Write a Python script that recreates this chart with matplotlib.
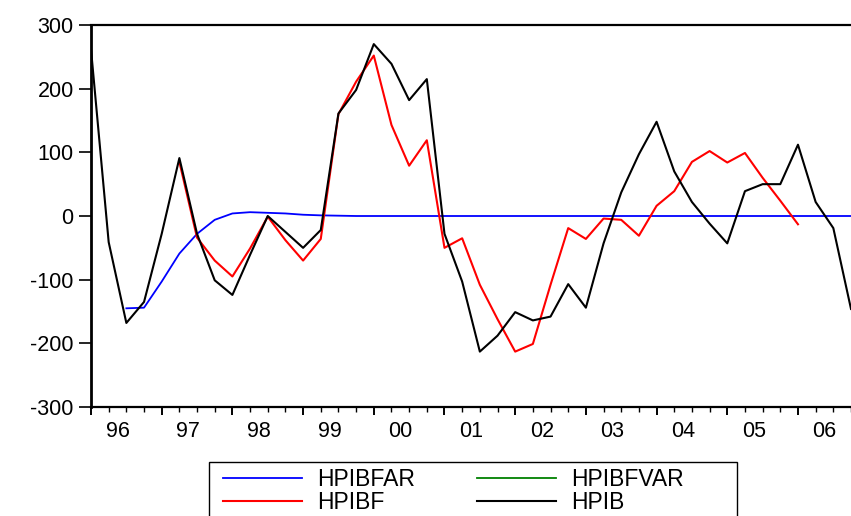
import numpy as np
from matplotlib import pyplot as plt
from matplotlib.patches import Rectangle

nan = np.nan

# quarterly observations, first one is 1996Q1
hpib = [262, -41, -168, -135, -28, 91, -28, -101, -124, -61,
        0, -25, -50, -22, 161, 198, 270, 239, 182, 215,
        -28, -103, -213, -188, -151, -164, -158, -107, -144, -43,
        37, 97, 148, 70, 22, -12, -43, 39, 50, 50,
        112, 22, -19, -146]
hpibf = [nan, nan, nan, nan, nan, 85, -34, -70, -95, -51,
         -1, -38, -70, -36, 160, 211, 252, 143, 79, 119,
         -50, -35, -108, -162, -213, -201, -108, -19, -36, -4,
         -6, -31, 16, 39, 85, 102, 84, 99, 60, 24,
         -13, nan, nan, nan]
hpibfar = [nan, nan, -145, -144, -103, -59, -28, -6, 4, 6,
           5, 4, 2, 1, 0.5, 0, 0, 0, 0, 0,
           0, 0, 0, 0, 0, 0, 0, 0, 0, 0,
           0, 0, 0, 0, 0, 0, 0, 0, 0, 0,
           0, 0, 0, 0]
hpibfvar = [nan] * 44
years = ['96', '97', '98', '99', '00', '01', '02', '03', '04', '05', '06']

plt.rcParams['font.family'] = ['Liberation Sans', 'DejaVu Sans']
plt.rcParams['axes.unicode_minus'] = False

fig = plt.figure(figsize=(8.51, 5.16), dpi=100)
ax = fig.add_axes([91 / 851, 109 / 516, 760 / 851, 382 / 516])

t = np.arange(len(hpib))
l_far, = ax.plot(t, hpibfar, color='#0000ff', lw=1.3, label='HPIBFAR')
l_var, = ax.plot(t, hpibfvar, color='#008000', lw=1.3, label='HPIBFVAR')
l_f, = ax.plot(t, hpibf, color='#ff0000', lw=1.5, label='HPIBF')
l_b, = ax.plot(t, hpib, color='black', lw=1.5, label='HPIB')

ax.set_xlim(0, 760 / 17.85)
ax.set_ylim(-300, 300)
ax.set_yticks(range(-300, 301, 100))
ax.tick_params(axis='y', length=9, width=1.2, pad=3.5, labelsize=15.5)

ax.set_xticks(range(0, 44, 4))
ax.set_xticks(range(0, 44), minor=True)
ax.set_xticklabels([])
ax.tick_params(axis='x', which='major', length=6, width=1.4)
ax.tick_params(axis='x', which='minor', length=3.5, width=1.0)
for k, y in enumerate(years):
    ax.text(1.5 + 4 * k, -0.065, y, transform=ax.get_xaxis_transform(),
            ha='center', va='center', fontsize=15.5)

ax.spines['right'].set_visible(False)
ax.spines['left'].set_linewidth(2.0)
ax.spines['top'].set_linewidth(1.6)
ax.spines['bottom'].set_linewidth(1.6)

# legend box runs off the bottom of the picture
fig.patches.append(Rectangle((208.5 / 851, -20 / 516), 528.5 / 851, 74 / 516,
                             transform=fig.transFigure, fill=False,
                             edgecolor='black', lw=1.0))

# column-major order so rows read FAR/FVAR then F/B
handles = [l_far, l_f, l_var, l_b]
leg = fig.legend(handles, [h.get_label() for h in handles], ncol=2,
                 loc='upper left', bbox_to_anchor=(223 / 851, 1 - 468 / 516),
                 fontsize=16.5, frameon=False,
                 handlelength=3.45, handletextpad=0.65, columnspacing=2.7,
                 labelspacing=0.0, borderpad=0, borderaxespad=0)

plt.savefig('out.png', dpi=100)
